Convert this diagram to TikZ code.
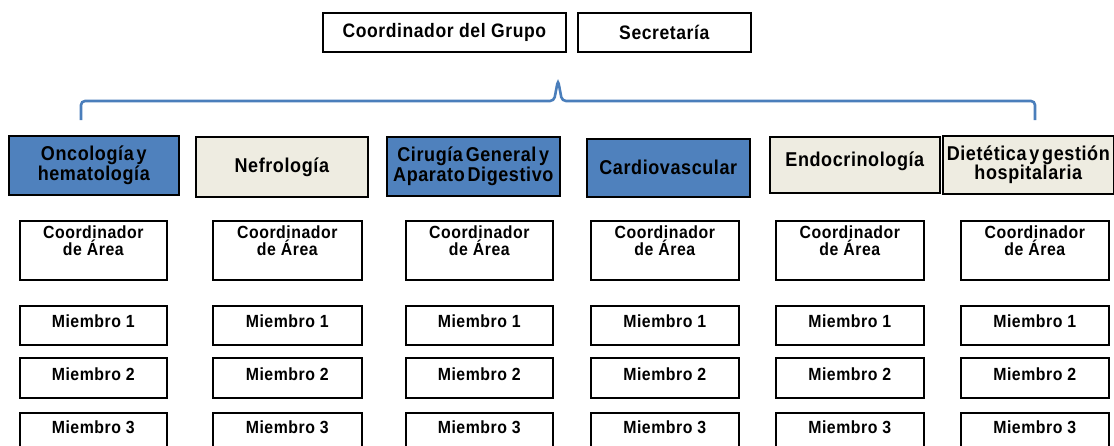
\documentclass[tikz,border=0pt]{standalone}
\usepackage{fontspec}
\setmainfont{Liberation Sans}[FakeStretch=0.9, LetterSpace=3]
\newfontfamily\areafont{Liberation Sans}[FakeStretch=0.9, LetterSpace=3, WordSpace=0.5]
\definecolor{areablue}{HTML}{4F81BD}
\definecolor{areabeige}{HTML}{EEECE1}
\definecolor{brkblue}{HTML}{4A7EBB}
\begin{document}
\begin{tikzpicture}[x=1pt,y=-1pt,
  box/.style={draw=black, line width=1.6pt, anchor=north west, inner sep=0pt, align=center},
  toptext/.style={font=\bfseries\fontsize{19.5}{19}\selectfont},
  areatext/.style={font=\areafont\bfseries\fontsize{20}{19.5}\selectfont},
  stext/.style={font=\bfseries\fontsize{17.6}{15.5}\selectfont, align=center, inner sep=0pt},
  bluebox/.style={box, fill=areablue},
  beigebox/.style={box, fill=areabeige},
  brk/.style={draw=brkblue, line width=2.6pt, rounded corners=4pt}
]
\useasboundingbox (0,0) rectangle (1114,445);
\clip (0,0) rectangle (1114,445);
\fill[white] (0,0) rectangle (1114,445);

% top boxes
\node[box, toptext, minimum width=243pt, minimum height=39pt] (cg) at (322,12) {Coordinador del Grupo};
\node[box, toptext, minimum width=173pt, minimum height=39pt] (sec) at (577,12) {Secretaría};

% bracket
\coordinate (bl) at (81,120);
\coordinate (bc) at (558,80);
\coordinate (br) at (1035,120);
\draw[brk] (bl) -- (81,101) -- (554,101) -- (bc) -- (562,101) -- (1035,101) -- (br);

% area boxes
\node[bluebox, areatext, minimum width=170pt, minimum height=59pt] (a1) at (8,135) {Oncología y\\hematología};
\node[beigebox, areatext, minimum width=172pt, minimum height=60pt] (a2) at (195,136) {Nefrología};
\node[bluebox, areatext, minimum width=173pt, minimum height=59pt] (a3) at (386,136) {Cirugía General y\\Aparato Digestivo};
\node[bluebox, areatext, minimum width=163pt, minimum height=58pt] (a4) at (586,138) {Cardiovascular};
\node[beigebox, minimum width=170pt, minimum height=56pt] (a5) at (769,136) {};
\node[areatext, inner sep=0pt] (a5t) at ([yshift=4pt]a5.center) {Endocrinología};
\node[beigebox, areatext, minimum width=171pt, minimum height=58pt] (a6) at (942,135) {Dietética y gestión\\hospitalaria};

% columns
\foreach \i/\x/\w in {1/19/147, 2/212/149, 3/405/147, 4/590/148, 5/775/148, 6/960/148} {
  \node[box, minimum width=\w pt, minimum height=59pt] (ca\i) at (\x,220) {};
  \node[stext, anchor=north] (cat\i) at ([yshift=-6pt]ca\i.north) {Coordinador\\de Área};
  \node[box, minimum width=\w pt, minimum height=39pt] (ma\i) at (\x,305) {};
  \node[stext] (mat\i) at ([yshift=4pt]ma\i.center) {Miembro 1};
  \node[box, minimum width=\w pt, minimum height=40pt] (mb\i) at (\x,357) {};
  \node[stext] (mbt\i) at ([yshift=4pt]mb\i.center) {Miembro 2};
  \node[box, minimum width=\w pt, minimum height=50pt] (mc\i) at (\x,412) {};
  \node[stext] (mct\i) at ([yshift=-1pt]mc\i.north |- 0,426) {Miembro 3};
}
\end{tikzpicture}
\end{document}
